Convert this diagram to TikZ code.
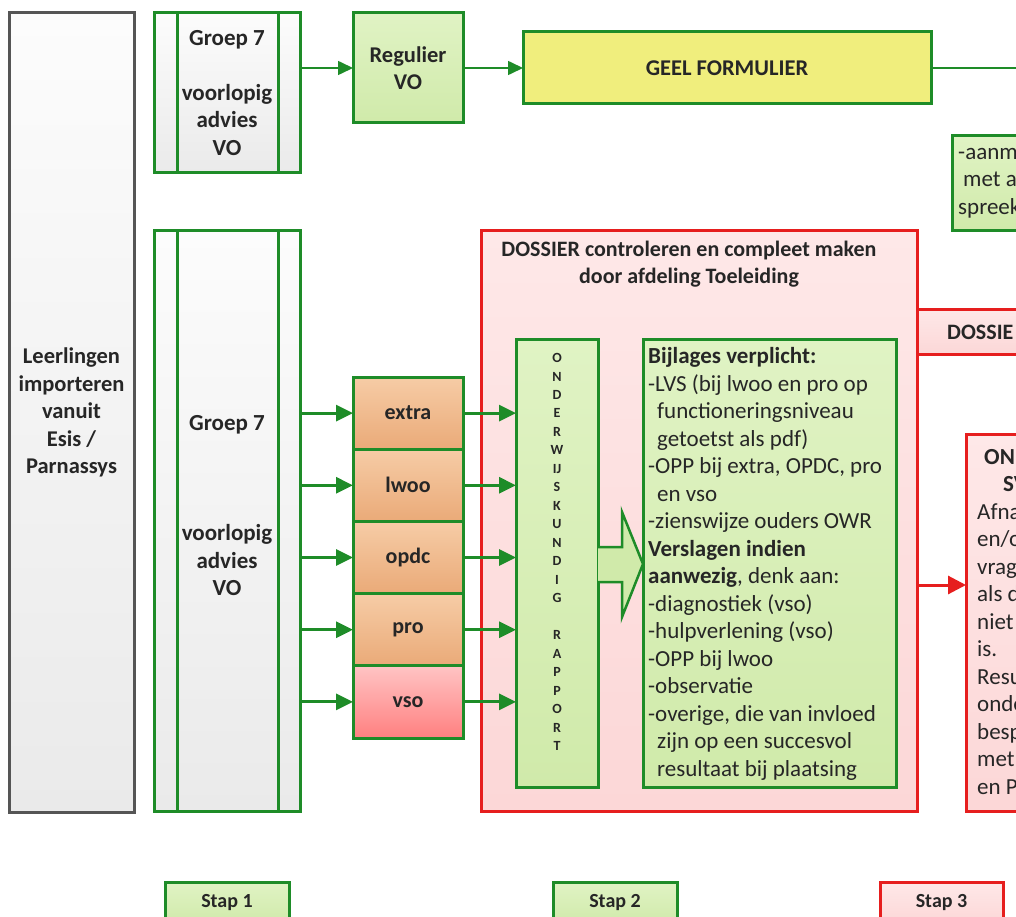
\documentclass[tikz,border=0pt]{standalone}
\usepackage{fontspec}
\setmainfont{Carlito}
\usetikzlibrary{arrows.meta,calc}
\definecolor{gb}{RGB}{30,140,40}
\definecolor{rb}{RGB}{230,30,30}
\definecolor{grayb}{RGB}{85,85,85}
\definecolor{txt}{RGB}{38,38,38}
\definecolor{lgreenT}{RGB}{224,243,196}
\definecolor{lgreenB}{RGB}{208,234,170}
\definecolor{pinkT}{RGB}{254,232,232}
\definecolor{pinkB}{RGB}{252,215,215}
\definecolor{orT}{RGB}{246,204,166}
\definecolor{orB}{RGB}{234,170,120}
\definecolor{vsoT}{RGB}{255,196,196}
\definecolor{vsoB}{RGB}{255,128,128}
\definecolor{yel}{RGB}{240,238,125}
\definecolor{grT}{RGB}{252,252,252}
\definecolor{grB}{RGB}{234,234,234}
\begin{document}
\begin{tikzpicture}[x=1pt,y=-1pt,
  font=\fontsize{23}{27.5}\selectfont, text=txt,
  box/.style={draw, line width=3pt, inner sep=0pt, outer sep=0pt, anchor=north west, align=center},
  graybox/.style={box, draw=grayb, top color=grT, bottom color=grB, font=\fontsize{22.5}{27.5}\selectfont\bfseries},
  grpbox/.style={box, draw=gb, top color=grT, bottom color=grB, font=\fontsize{23}{27.3}\selectfont\bfseries},
  gbox/.style={box, draw=gb, top color=lgreenT, bottom color=lgreenB},
  obox/.style={box, draw=gb, top color=orT, bottom color=orB, font=\fontsize{22}{26}\selectfont\bfseries},
  vbox/.style={box, draw=gb, top color=vsoT, bottom color=vsoB, font=\fontsize{22}{26}\selectfont\bfseries},
  ybox/.style={box, draw=gb, fill=yel, font=\fontsize{22.5}{26}\selectfont\bfseries},
  rbox/.style={box, draw=rb, top color=pinkT, bottom color=pinkB},
  gline/.style={draw=gb, line width=3pt},
  garr/.style={draw=gb, line width=3pt, -{Triangle[length=17pt,width=16pt]}},
  tarr/.style={draw=gb, line width=1.6pt, -{Triangle[length=15pt,width=14pt]}},
  rarr/.style={draw=rb, line width=3pt, -{Triangle[length=18pt,width=18pt]}},
  lbl/.style={inner sep=0pt, align=center},
  stapfont/.style={font=\fontsize{20}{24}\selectfont\bfseries}
]
\useasboundingbox (0,0) rectangle (1016,917);
\clip (0,0) rectangle (1016,917);

% left column
\node[graybox, minimum width=125pt, minimum height=799pt] (lead) at (9,13)
  {Leerlingen\\importeren\\vanuit\\Esis /\\Parnassys};

% Groep 7 top
\node[grpbox, minimum width=146pt, minimum height=160pt] (g7a) at (154,13)
  {Groep 7\\~\\voorlopig\\advies\\VO};
\draw[gline] ([xshift=23pt]g7a.north west) -- ([xshift=23pt]g7a.south west);
\draw[gline] ([xshift=-22pt]g7a.north east) -- ([xshift=-22pt]g7a.south east);

% Groep 7 big
\node[grpbox, minimum width=146pt, minimum height=580pt] (g7b) at (154,231) {};
\draw[gline] ([xshift=23pt]g7b.north west) -- ([xshift=23pt]g7b.south west);
\draw[gline] ([xshift=-22pt]g7b.north east) -- ([xshift=-22pt]g7b.south east);
\node[lbl, font=\fontsize{23}{27.5}\selectfont\bfseries] (g7btxt) at (227,506)
  {Groep 7\\~\\~\\~\\voorlopig\\advies\\VO};

% top row
\node[gbox, minimum width=110pt, minimum height=110pt, font=\fontsize{22.5}{27}\selectfont\bfseries] (reg) at (353,13) {Regulier\\VO};
\node[ybox, minimum width=408pt, minimum height=72pt] (geel) at (523,32) {GEEL FORMULIER};
\coordinate (gend) at (1016,68);
\draw[tarr] (g7a.east |- reg.west) -- (reg.west);
\draw[tarr] (reg.east) -- (geel.west);
\draw[draw=gb, line width=1.6pt] (geel.east) -- (gend);

% aanm box (cut off at the right, as in the reference)
\node[gbox, minimum width=100pt, minimum height=95pt] (aanm) at (952,136) {};
\node[lbl, anchor=west, align=left] (aanmtxt) at (958,183)
  {-aanm\\\hspace*{5pt}met a\\spreek};

% big red dossier box
\node[rbox, minimum width=436pt, minimum height=580pt] (dossier) at (481,231) {};
\node[lbl, font=\fontsize{22}{27}\selectfont\bfseries] (dostitle) at (689,264)
  {DOSSIER controleren en compleet maken\\door afdeling Toeleiding};

% small red DOSSIE box
\node[rbox, minimum width=130pt, minimum height=45pt] (dossr) at (917,309) {};
\node[lbl, anchor=west, font=\fontsize{22}{27}\selectfont\bfseries] (dossrtxt) at (947,332) {DOSSIE};

% red ON.. box
\node[rbox, minimum width=90pt, minimum height=377pt] (onb) at (966,434) {};
\node[lbl, anchor=west, align=left] (onbtxt) at (977,622)
  {\hspace*{7pt}\textbf{OND}\\\hspace*{26pt}\textbf{SV}\\Afna\\en/o\\vrag\\als d\\niet\\is.\\Resu\\onde\\besp\\met\\en P};
\coordinate (rastart) at (917,585);
\draw[rarr] (rastart) -- (rastart -| onb.west);

% stack of boxes
\node[obox, minimum width=110pt, minimum height=72.2pt] (extra) at (353,377) {extra};
\node[obox, minimum width=110pt, minimum height=72.2pt] (lwoo) at (353,449.2) {lwoo};
\node[obox, minimum width=110pt, minimum height=72.2pt] (opdc) at (353,521.4) {opdc};
\node[obox, minimum width=110pt, minimum height=72.2pt] (pro) at (353,593.6) {pro};
\node[vbox, minimum width=110pt, minimum height=72.2pt] (vso) at (353,665.8) {vso};

% onderwijskundig rapport
\node[gbox, minimum width=82pt, minimum height=448pt] (ondr) at (516,339) {};
\node[lbl, font=\fontsize{14}{18.48}\selectfont\bfseries] (ondrtxt) at (557,552)
  {O\\N\\D\\E\\R\\W\\IJ\\S\\K\\U\\N\\D\\I\\G\\~\\R\\A\\P\\P\\O\\R\\T};

% bijlages box
\node[gbox, minimum width=253pt, minimum height=448pt] (bijl) at (643,339) {};
\node[lbl, anchor=west, align=left] (bijltxt) at (648,564)
  {\textbf{Bijlages verplicht:}\\
   -LVS (bij lwoo en pro op\\
   \hspace*{9pt}functioneringsniveau\\
   \hspace*{9pt}getoetst als pdf)\\
   -OPP bij extra, OPDC, pro\\
   \hspace*{9pt}en vso\\
   -zienswijze ouders OWR\\
   \textbf{Verslagen indien}\\
   \textbf{aanwezig}, denk aan:\\
   -diagnostiek (vso)\\
   -hulpverlening (vso)\\
   -OPP bij lwoo\\
   -observatie\\
   -overige, die van invloed\\
   \hspace*{9pt}zijn op een succesvol\\
   \hspace*{9pt}resultaat bij plaatsing};

% hollow arrow between rapport and bijlages
\fill[lgreenB] (ondr.east |- 0,547) -- (622,547) -- (622,512) -- (bijl.west |- 0,564)
  -- (622,617) -- (622,582) -- (ondr.east |- 0,582) -- cycle;
\draw[draw=gb, line width=2.5pt, line join=miter] (ondr.east |- 0,547) -- (622,547) -- (622,512)
  -- (bijl.west |- 0,564) -- (622,617) -- (622,582) -- (ondr.east |- 0,582);

% arrows into and out of the stack
\foreach \b in {extra,lwoo,opdc,pro,vso}{
  \draw[garr] (g7b.east |- \b.west) -- (\b.west);
  \draw[garr] (\b.east) -- (\b.east -| ondr.west);
}

% step labels
\node[gbox, stapfont, minimum width=124pt, minimum height=42pt] (stap1) at (165,882) {Stap 1};
\node[gbox, stapfont, minimum width=124pt, minimum height=42pt] (stap2) at (553,882) {Stap 2};
\node[rbox, stapfont, minimum width=123pt, minimum height=42pt] (stap3) at (880,882) {Stap 3};
\end{tikzpicture}
\end{document}
